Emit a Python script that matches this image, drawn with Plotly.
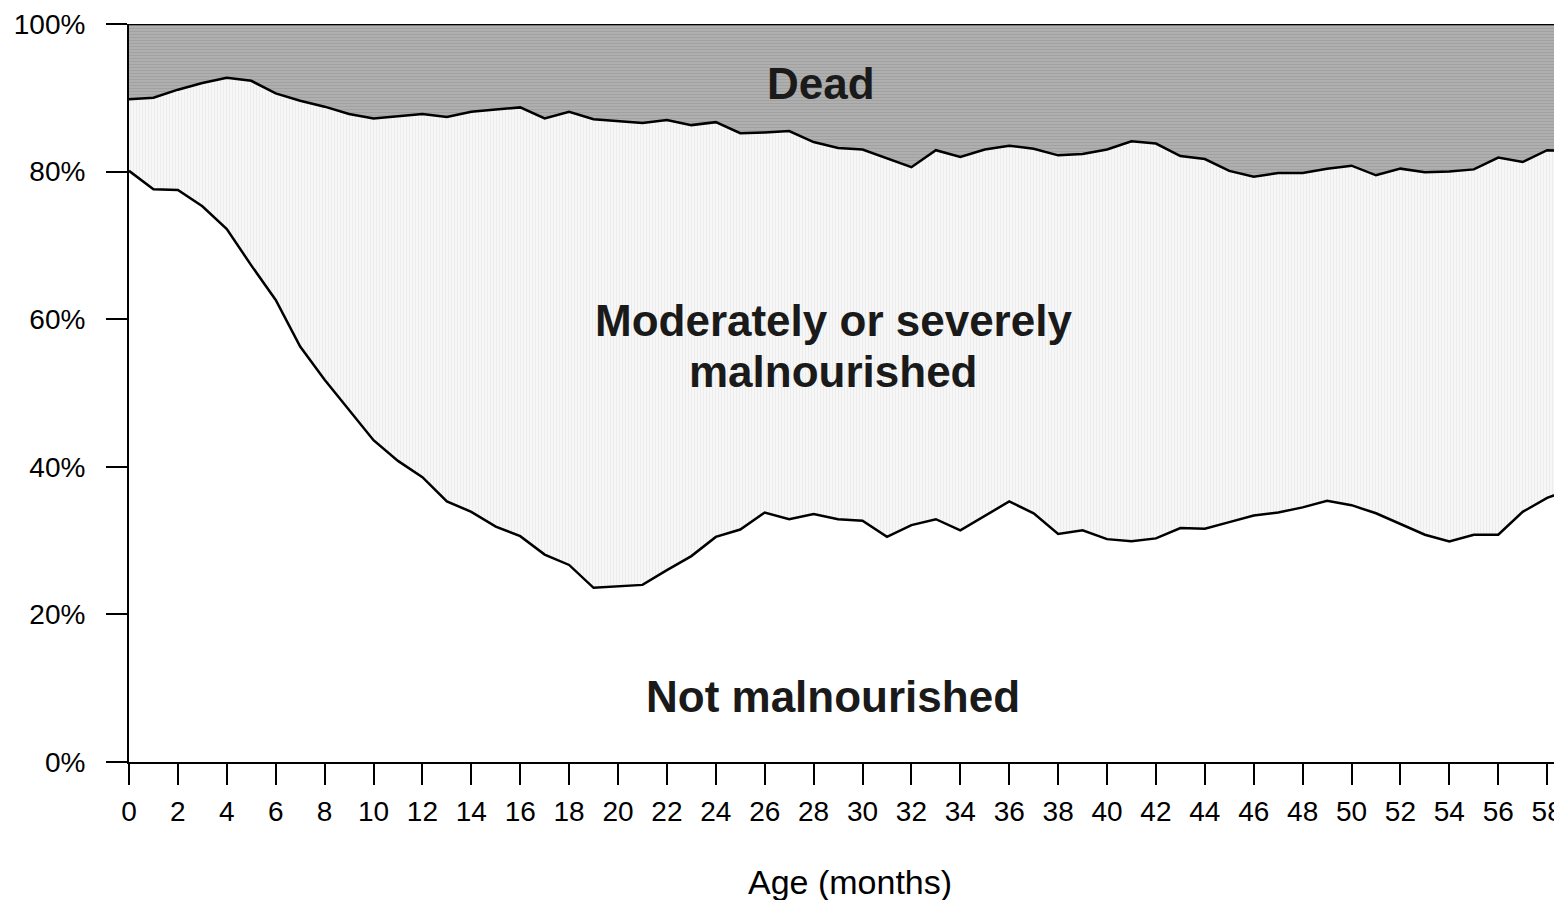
import plotly.graph_objects as go

# age in months
age = list(range(0, 60))

# share of children not malnourished (%)
not_malnourished = [
    80.1, 77.6, 77.5, 75.3, 72.2, 67.3, 62.6, 56.3, 51.8, 47.7,
    43.6, 40.8, 38.6, 35.3, 33.9, 31.9, 30.6, 28.1, 26.7, 23.6,
    23.75, 24.0, 26.0, 27.9, 30.5, 31.5, 33.8, 32.9, 33.6, 32.9,
    32.7, 30.5, 32.1, 32.9, 31.4, 33.4, 35.3, 33.7, 30.9, 31.4,
    30.2, 29.9, 30.3, 31.7, 31.6, 32.5, 33.4, 33.8, 34.5, 35.4,
    34.8, 33.7, 32.3, 30.8, 29.9, 30.8, 30.8, 33.9, 35.8, 37.0,
]

# share of children still alive (not malnourished + malnourished) (%)
alive = [
    89.8, 90.0, 91.1, 92.0, 92.7, 92.3, 90.6, 89.6, 88.8, 87.8,
    87.2, 87.5, 87.8, 87.4, 88.1, 88.4, 88.7, 87.2, 88.1, 87.1,
    86.9, 86.6, 87.0, 86.3, 86.7, 85.2, 85.3, 85.5, 84.0, 83.2,
    83.0, 81.8, 80.6, 82.9, 82.0, 83.0, 83.5, 83.1, 82.2, 82.4,
    83.0, 84.1, 83.8, 82.1, 81.7, 80.1, 79.3, 79.8, 79.8, 80.4,
    80.8, 79.5, 80.4, 79.9, 80.0, 80.3, 81.9, 81.3, 82.9, 82.8,
]

total = [100] * len(age)

x_ticks = list(range(0, 60, 2))
y_ticks = [0, 20, 40, 60, 80, 100]

FONT = "Arial, Liberation Sans, sans-serif"
LINE = dict(color="#000000", width=2.5)

fig = go.Figure()

fig.add_trace(go.Scatter(
    x=age, y=not_malnourished,
    mode="lines", line=LINE,
    fill="tozeroy", fillcolor="#ffffff",
    hoverinfo="skip", showlegend=False,
))

fig.add_trace(go.Scatter(
    x=age, y=alive,
    mode="lines", line=LINE,
    fill="tonexty",
    fillpattern=dict(shape="|", bgcolor="#f7f7f7", fgcolor="#e2e2e2",
                     size=3, solidity=0.35),
    hoverinfo="skip", showlegend=False,
))

fig.add_trace(go.Scatter(
    x=age, y=total,
    mode="lines", line=LINE,
    fill="tonexty",
    fillpattern=dict(shape="-", bgcolor="#b0b0b0", fgcolor="#929292",
                     size=3, solidity=0.4),
    hoverinfo="skip", showlegend=False,
))

labels = [
    (28.3, 92.0, "Dead"),
    (28.8, 59.8, "Moderately or severely"),
    (28.8, 52.85, "malnourished"),
    (28.8, 8.94, "Not malnourished"),
]
for x, y, t in labels:
    fig.add_annotation(
        x=x, y=y, text=t, showarrow=False,
        xanchor="center", yanchor="middle",
        font=dict(family=FONT, size=44, color="#1a1a1a", weight="bold"),
    )

# axis title, placed like the original (slightly right of the plot centre)
fig.add_annotation(
    x=0.506, y=-0.1626, xref="paper", yref="paper",
    xanchor="center", yanchor="middle",
    text="Age (months)", showarrow=False,
    font=dict(family=FONT, size=34, color="#000000"),
)

fig.update_xaxes(
    range=[0, 58.28],
    tickvals=x_ticks,
    ticks="outside", ticklen=21, tickwidth=2, tickcolor="#000000",
    showline=True, linecolor="#000000", linewidth=2,
    showgrid=False, zeroline=False,
    tickfont=dict(family=FONT, size=28, color="#000000"),
    ticklabelstandoff=2,
    ticklabeloverflow="allow",
    automargin=False,
)

fig.update_yaxes(
    range=[0, 100],
    tickvals=y_ticks,
    ticktext=[f"{v}%" for v in y_ticks],
    ticks="outside", ticklen=21, tickwidth=2, tickcolor="#000000",
    showline=True, linecolor="#000000", linewidth=2,
    showgrid=False, zeroline=False,
    tickfont=dict(family=FONT, size=28, color="#000000"),
    ticklabelstandoff=15,
    automargin=False,
)

fig.update_layout(
    width=1554, height=900,
    margin=dict(l=129, r=0, t=24, b=138),
    plot_bgcolor="#ffffff", paper_bgcolor="#ffffff",
)

fig.write_html("out.html", config={"displayModeBar": False},
               post_script="document.body.style.margin='0px';")
